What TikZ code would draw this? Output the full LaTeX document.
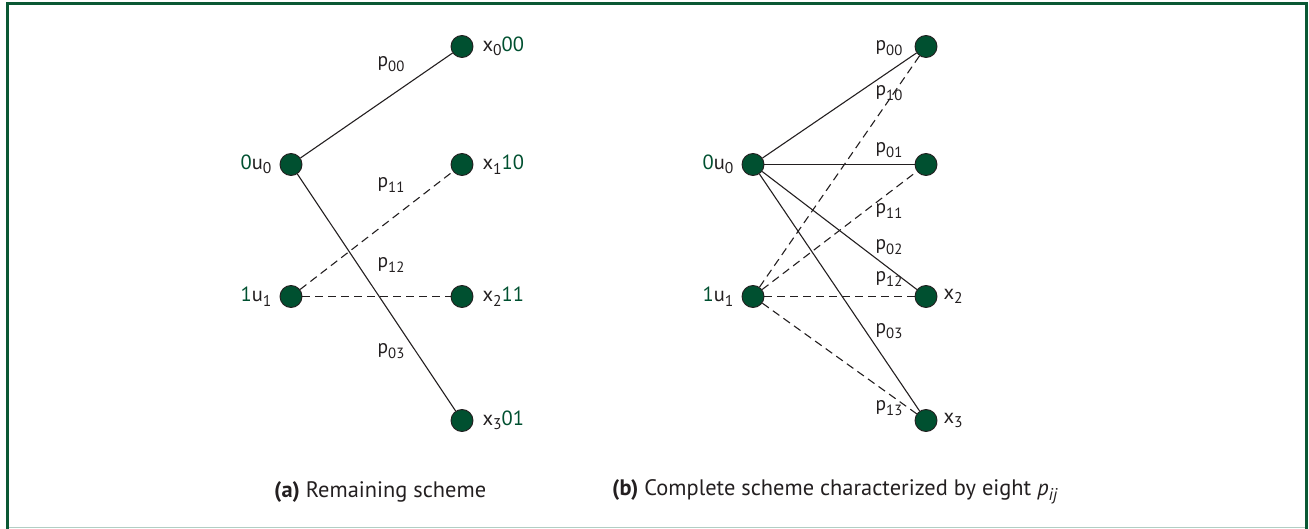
\documentclass[tikz,border=0pt]{standalone}
\usepackage{fontspec}
\setmainfont{PT Sans}
\definecolor{dgreen}{RGB}{0,80,48}
\definecolor{frame}{RGB}{10,88,52}
\definecolor{lframe}{RGB}{178,206,196}
\definecolor{ink}{RGB}{35,31,32}
\tikzset{
  vtx/.style={circle, fill=dgreen, draw=ink, line width=0.9pt, minimum size=22pt, inner sep=0pt},
  lbl/.style={font=\fontsize{20.5}{22}\selectfont, text=ink, inner sep=0pt},
  plbl/.style={font=\fontsize{19.5}{21}\selectfont, text=ink, inner sep=0pt},
  captxt/.style={font=\fontsize{22.4}{24}\selectfont, text=ink, inner sep=0pt, anchor=west},
  solidedge/.style={draw=ink, line width=1.1pt},
  dashedge/.style={draw=ink, line width=1.1pt, dash pattern=on 8pt off 5pt},
}
\newcommand{\gr}[1]{\textcolor{dgreen}{#1}}
\newcommand{\sbs}[1]{\raisebox{-0.22em}{\scalebox{0.76}{#1}}}
\begin{document}
\begin{tikzpicture}[x=1pt,y=-1pt]
\useasboundingbox (0,0) rectangle (1309,529);
% frame
\draw[lframe, line width=1.5pt] (7,527.5) -- (1306,527.5);
\draw[frame, line width=3pt] (7,529) -- (7,4) -- (1306,4) -- (1306,529);

% ---------- panel (a)
\node[vtx, label={[lbl, label distance=8pt]left:\gr{0}u\sbs{0}}] (a0) at (291,164.5) {};
\node[vtx, label={[lbl, label distance=8pt]left:\gr{1}u\sbs{1}}] (a1) at (291,296.5) {};
\node[vtx, label={[lbl, label distance=9pt]right:x\sbs{0}\gr{00}}] (ax0) at (462,46.5) {};
\node[vtx, label={[lbl, label distance=9pt]right:x\sbs{1}\gr{10}}] (ax1) at (462,164.5) {};
\node[vtx, label={[lbl, label distance=9pt]right:x\sbs{2}\gr{11}}] (ax2) at (462,296.5) {};
\node[vtx, label={[lbl, label distance=9pt]right:x\sbs{3}\gr{01}}] (ax3) at (462,420.5) {};

\draw[solidedge] (a0) -- (ax0);
\draw[solidedge] (a0) -- (ax3);
\draw[dashedge] (a1) -- (ax1);
\draw[dashedge] (a1) -- (ax2);

\node[plbl] (la00) at (391,64) {p\sbs{00}};
\node[plbl] (la11) at (391,185) {p\sbs{11}};
\node[plbl] (la12) at (391,265) {p\sbs{12}};
\node[plbl] (la03) at (391,351) {p\sbs{03}};

% ---------- panel (b)
\node[vtx, label={[lbl, label distance=8pt]left:\gr{0}u\sbs{0}}] (b0) at (753,164.5) {};
\node[vtx, label={[lbl, label distance=8pt]left:\gr{1}u\sbs{1}}] (b1) at (753,296.5) {};
\node[vtx] (bx0) at (926,46.5) {};
\node[vtx] (bx1) at (926,164.5) {};
\node[vtx, label={[lbl, label distance=6pt]right:x\sbs{2}}] (bx2) at (926,296.5) {};
\node[vtx, label={[lbl, label distance=6pt]right:x\sbs{3}}] (bx3) at (926,420.5) {};

\draw[solidedge] (b0) -- (bx0);
\draw[solidedge] (b0) -- (bx1);
\draw[solidedge] (b0) -- (bx2);
\draw[solidedge] (b0) -- (bx3);
\draw[dashedge] (b1) -- (bx0);
\draw[dashedge] (b1) -- (bx1);
\draw[dashedge] (b1) -- (bx2);
\draw[dashedge] (b1) -- (bx3);

\node[plbl] (lb00) at (889,48) {p\sbs{00}};
\node[plbl] (lb10) at (889,93) {p\sbs{10}};
\node[plbl] (lb01) at (889,150) {p\sbs{01}};
\node[plbl] (lb11) at (889,211) {p\sbs{11}};
\node[plbl] (lb02) at (889,247) {p\sbs{02}};
\node[plbl] (lb12) at (889,279) {p\sbs{12}};
\node[plbl] (lb03) at (889,331) {p\sbs{03}};
\node[plbl] (lb13) at (889,408) {p\sbs{13}};

% captions
\node[captxt] (capa) at (274,492) {\textbf{(a)} Remaining scheme};
\node[captxt] (capb) at (612,492) {\textbf{(b)} Complete scheme characterized by eight \textit{p}\sbs{\textit{ij}}};
\end{tikzpicture}
\end{document}
